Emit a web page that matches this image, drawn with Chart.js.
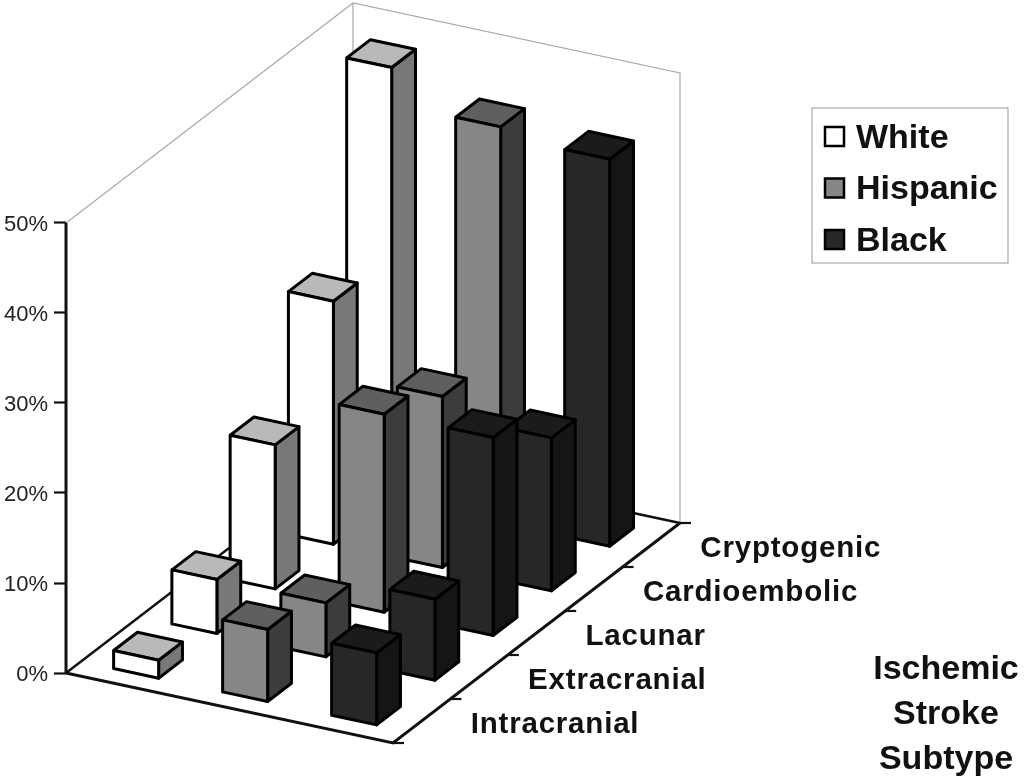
<!DOCTYPE html>
<html>
<head>
<meta charset="utf-8">
<title>Ischemic Stroke Subtype</title>
<script src="https://cdn.jsdelivr.net/npm/chart.js@4"></script>
<style>
    html, body { margin: 0; padding: 0; background: #fff; }
    canvas { display: block; }
</style>
</head>
<body>
<canvas id="chart" width="1024" height="782"></canvas>
<script>
// Data
const subtypes = ['Intracranial', 'Extracranial', 'Lacunar', 'Cardioembolic', 'Cryptogenic'];
const races = ['White', 'Hispanic', 'Black'];
const whiteValues = [2, 6, 16, 27, 48];
const hispanicValues = [8, 6, 22, 19, 44];
const blackValues = [8, 9, 22, 17, 43];
const tickValues = [0, 10, 20, 30, 40, 50];
const axisTitle = ['Ischemic', 'Stroke', 'Subtype'];

const seriesValues = [whiteValues, hispanicValues, blackValues];
// front, top, side
const raceColors = [
    ['#ffffff', '#b9b9b9', '#787878'],
    ['#868686', '#5f5f5f', '#3c3c3c'],
    ['#272727', '#1b1b1b', '#151515']
];

// Oblique projection of the 3D box onto the x scale (pixels) and y scale (percent)
const originX = 66;
const originY = 673;
const pxPerPercent = 9;
const raceStep = { x: 109, y: 23.33 };
const depthStep = { x: 57.4, y: -44 };

function project(a, b, value) {
    return {
        x: originX + a * raceStep.x + b * depthStep.x,
        y: value - (a * raceStep.y + b * depthStep.y) / pxPerPercent
    };
}

const barStartA = 0.3, barStartB = 0.26, barRowStep = 1.015, barWidth = 0.413, barDepth = 0.415;
const datasets = [];

function addLine(points, color, width) {
    datasets.push({
        data: points, borderColor: color, borderWidth: width,
        showLine: true, pointRadius: 0, fill: false, clip: false
    });
}

function addFace(points, color) {
    datasets.push({
        data: points.concat([points[0]]), borderColor: '#000', borderWidth: 3,
        backgroundColor: color, showLine: true, pointRadius: 0, fill: 'shape',
        borderJoinStyle: 'round', clip: false
    });
}

// Walls and floor
const maxA = races.length, maxB = subtypes.length, wallTop = tickValues[tickValues.length - 1];
addLine([project(0, 0, wallTop), project(0, maxB, wallTop), project(maxA, maxB, wallTop), project(maxA, maxB, 0)], '#aaaaaa', 1.2);
addLine([project(0, maxB, wallTop), project(0, maxB, 0)], '#aaaaaa', 1.2);
addLine([project(0, 0, 0), project(0, maxB, 0), project(maxA, maxB, 0)], '#111', 2.5);
addLine([project(0, 0, 0), project(maxA, 0, 0), project(maxA, maxB, 0)], '#111', 3);
addLine([project(0, 0, 0), project(0, 0, wallTop)], '#111', 3);

// Subtype tick marks on the right floor edge
for (let j = 0; j <= maxB; j++) {
    const p = project(maxA, j, 0);
    addLine([p, { x: p.x + 11, y: p.y }], '#111', 2.2);
}

// Bars, back row first
for (let j = subtypes.length - 1; j >= 0; j--) {
    races.forEach((race, i) => {
        const v = seriesValues[i][j];
        const a0 = i + barStartA, a1 = a0 + barWidth;
        const b0 = j * barRowStep + barStartB, b1 = b0 + barDepth;
        const colors = raceColors[i];
        addFace([project(a1, b0, 0), project(a1, b1, 0), project(a1, b1, v), project(a1, b0, v)], colors[2]);
        addFace([project(a0, b0, v), project(a1, b0, v), project(a1, b1, v), project(a0, b1, v)], colors[1]);
        addFace([project(a0, b0, 0), project(a1, b0, 0), project(a1, b0, v), project(a0, b0, v)], colors[0]);
    });
}
datasets.forEach((d, idx) => { d.order = datasets.length - idx; });

// Subtype names, axis title and legend are painted on top of the chart
const textPlugin = {
    id: 'textPlugin',
    afterDraw(chart) {
        const ctx = chart.ctx;
        const xs = chart.scales.x, ys = chart.scales.y;
        ctx.save();
        ctx.fillStyle = '#111';
        ctx.textBaseline = 'middle';

        ctx.font = 'bold 29.5px "Liberation Sans"';
        ctx.letterSpacing = '0.8px';
        ctx.textAlign = 'left';
        subtypes.forEach((name, j) => {
            const p = project(maxA, j + 0.5, 0);
            ctx.fillText(name, xs.getPixelForValue(p.x) + 49, ys.getPixelForValue(p.y) + 4);
        });
        ctx.letterSpacing = '0px';

        ctx.font = 'bold 34px "Liberation Sans"';
        ctx.textAlign = 'center';
        axisTitle.forEach((line, k) => ctx.fillText(line, 946, 670 + k * 45));

        // legend box
        ctx.fillStyle = '#fff';
        ctx.strokeStyle = '#aaaaaa';
        ctx.lineWidth = 1.2;
        ctx.fillRect(812, 108, 196, 155);
        ctx.strokeRect(812, 108, 196, 155);
        ctx.font = 'bold 34px "Liberation Sans"';
        ctx.textAlign = 'left';
        races.forEach((race, i) => {
            const cy = 137 + i * 51.5;
            ctx.fillStyle = raceColors[i][0];
            ctx.strokeStyle = '#000';
            ctx.lineWidth = 2.5;
            ctx.fillRect(825, cy - 10, 19, 19);
            ctx.strokeRect(825, cy - 10, 19, 19);
            ctx.fillStyle = '#111';
            ctx.fillText(race, 856, cy + 1.5);
        });
        ctx.restore();
    }
};

new Chart(document.getElementById('chart').getContext('2d'), {
    type: 'scatter',
    data: { datasets: datasets },
    plugins: [textPlugin],
    options: {
        responsive: false,
        animation: false,
        events: [],
        layout: { padding: 0 },
        plugins: {
            legend: { display: false },
            tooltip: { enabled: false }
        },
        scales: {
            x: { type: 'linear', display: false, min: originX, max: 1024 },
            y: {
                type: 'linear',
                position: 'left',
                min: (originY - 782) / pxPerPercent,
                max: originY / pxPerPercent,
                afterBuildTicks(scale) {
                    scale.ticks = tickValues.map(v => ({ value: v }));
                },
                afterFit(scale) {
                    scale.width = originX;
                    // no room kept for the end labels, the plot fills the canvas
                    scale.paddingTop = 0;
                    scale.paddingBottom = 0;
                },
                border: { display: false },
                grid: { drawOnChartArea: false, drawTicks: true, tickLength: 12, tickColor: '#111', tickWidth: 2.2 },
                ticks: {
                    color: '#222',
                    padding: 6,
                    autoSkip: false,
                    labelOffset: 1.5,
                    font: { family: '"Liberation Sans"', size: 22 },
                    callback: v => v + '%'
                }
            }
        }
    }
});
</script>
</body>
</html>
